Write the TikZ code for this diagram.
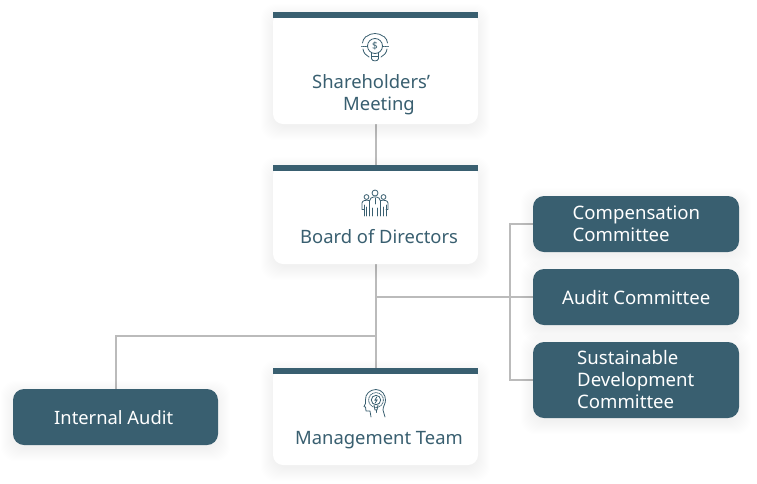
\documentclass[tikz,border=0pt]{standalone}
\usepackage{fontspec}
\setmainfont{Noto Sans}
\usetikzlibrary{backgrounds,calc}
\definecolor{teal}{HTML}{395F70}
\definecolor{wire}{HTML}{BBBBBB}
\tikzset{
  x=1pt,y=-1pt,
  boxbase/.style={rectangle,rounded corners=10pt,inner sep=0pt,outer sep=0pt,minimum width=205pt},
  card/.style={boxbase,fill=white},
  darkbox/.style={boxbase,fill=teal,rounded corners=11pt},
  bar/.style={fill=teal},
  conn/.style={draw=wire,line width=2pt},
  lightlabel/.style={text=white,font=\fontsize{18.35}{22}\selectfont,inner sep=0pt,align=left},
  committeelabel/.style={text=white,font=\fontsize{18.6}{22}\selectfont,inner sep=0pt,align=left},
  darklabel/.style={text=teal,font=\fontsize{18.4}{22}\selectfont,inner sep=0pt,align=left},
  icon/.style={draw=teal,line width=0.8pt,line cap=round,line join=round},
}
\newcommand{\softshadow}[4]{%
  \foreach \k in {1,...,14}{
    \fill[black,opacity=0.005,rounded corners=14pt]
      ({#1-13+\k},{#2-9+\k}) rectangle ({#3+13-\k},{#4+17-\k});
  }}
\begin{document}
\begin{tikzpicture}
\useasboundingbox (0,0) rectangle (757,483);

% shadows
\softshadow{273}{12}{478}{124}
\softshadow{273}{165}{478}{264}
\softshadow{273}{368}{478}{465}
\softshadow{13}{389}{218}{445}
\softshadow{533}{196}{739}{252}
\softshadow{533}{269}{739}{325}
\softshadow{533}{342}{739}{418}

% cards
\node[card,minimum height=112pt] (share) at (375.5,68) {};
\node[card,minimum height=99pt] (board) at (375.5,214.5) {};
\node[card,minimum height=97pt] (mgmt) at (375.5,416.5) {};
\fill[bar] (273,12) rectangle (478,18);
\fill[bar] (273,165) rectangle (478,171);
\fill[bar] (273,368) rectangle (478,374);

% dark boxes
\node[darkbox,minimum height=56pt] (internal) at (115.5,417) {};
\node[darkbox,minimum width=206pt,minimum height=56pt] (comp) at (636,224) {};
\node[darkbox,minimum width=206pt,minimum height=56pt] (audit) at (636,297) {};
\node[darkbox,minimum width=206pt,minimum height=76pt] (sust) at (636,380) {};

% connectors
\begin{scope}[on background layer]
\fill[white] (0,0) rectangle (757,483);
\draw[conn] (share.south) -- (board.north);
\draw[conn] (board.south) -- (mgmt.north);
\coordinate (jaudit) at (board.south |- audit.west);
\coordinate (jinternal) at (375.5,336);
\coordinate (jbus) at (510,297);
\draw[conn] (jaudit) -- (audit.west);
\draw[conn] (comp.west) -| (jbus) |- (sust.west);
\draw[conn] (internal.north) |- (jinternal);
\end{scope}

% labels
\node[darklabel,anchor=base west] (t1a) at (312,88) {Shareholders’};
\node[darklabel,anchor=base west] (t1b) at (343,110) {Meeting};
\node[darklabel,anchor=base west] (t2) at (300,243) {Board of Directors};
\node[darklabel,anchor=base west] (t3) at (295,444) {Management Team};
\node[lightlabel,anchor=base west] (t4) at (54,424) {Internal Audit};
\node[committeelabel,anchor=base west] (t5a) at (572.5,219) {Compensation};
\node[committeelabel,anchor=base west] (t5b) at (572.5,241) {Committee};
\node[committeelabel,anchor=base west] (t6) at (562,304) {Audit Committee};
\node[committeelabel,anchor=base west] (t7a) at (577,364) {Sustainable};
\node[committeelabel,anchor=base west] (t7b) at (577,386) {Development};
\node[committeelabel,anchor=base west] (t7c) at (577,408) {Committee};

% icon: bulb with dollar
\begin{scope}[shift={(375,46)}]
  \draw[icon] (0,0) circle (7.5);
  \draw[icon] (-3.2,7) -- (-3.2,13);
  \draw[icon] (3.2,7) -- (3.2,13);
  \draw[icon] (-3.2,10) -- (3.2,10);
  \draw[icon] (-3.2,13) .. controls (-3,15.5) and (3,15.5) .. (3.2,13);
  \draw[icon] (-8.5,-9.5) .. controls (-4,-13.5) and (4,-13.5) .. (8.5,-9.5);
  \draw[icon] (-12,3) .. controls (-11.5,7) and (-9,9.5) .. (-6,11);
  \draw[icon] (12,3) .. controls (11.5,7) and (9,9.5) .. (6,11);
  \draw[icon] (-12.5,-3) .. controls (-12.6,-5) and (-11,-8) .. (-9,-9.5);
  \draw[icon] (12.5,-3) .. controls (12.6,-5) and (11,-8) .. (9,-9.5);
  \draw[icon,densely dotted] (-13.5,0) -- (-8,0);
  \draw[icon,densely dotted] (8,0) -- (13.5,0);
  \node[text=teal,font=\fontsize{10}{10}\selectfont,inner sep=0pt] (dollar) at (0,0) {\$};
\end{scope}

% icon: people
\begin{scope}[shift={(375,205)}]
  \draw[icon] (0,-12) circle (3);
  \draw[icon] (-8.5,-8) circle (2.4);
  \draw[icon] (8.5,-8) circle (2.4);
  \draw[icon] (-5.5,11) -- (-5.5,-4) .. controls (-5.5,-7) and (-3,-7.5) .. (-1.5,-8) -- (1.5,-8) .. controls (3,-7.5) and (5.5,-7) .. (5.5,-4) -- (5.5,11);
  \draw[icon] (-2.5,3) -- (-2.5,11) (2.5,3) -- (2.5,11);
  \draw[icon] (0,-7) -- (0,-1);
  \draw[icon] (-5.5,-4.5) .. controls (-9,-5) and (-12.5,-5) .. (-13,-2) -- (-13,4);
  \draw[icon] (5.5,-4.5) .. controls (9,-5) and (12.5,-5) .. (13,-2) -- (13,4);
  \draw[icon] (-13,4) -- (-11,4) (11,4) -- (13,4);
  \draw[icon] (-11,0) -- (-11,11) (-8.5,2) -- (-8.5,11);
  \draw[icon] (11,0) -- (11,11) (8.5,2) -- (8.5,11);
\end{scope}

% icon: head with bulb
\begin{scope}[shift={(376,401)}]
  \draw[icon] (-5,16) -- (-6,10) -- (-10,10) -- (-10.5,6) -- (-12,5.5) -- (-10.5,2.5) -- (-10.5,-1)
     .. controls (-11,-7) and (-6,-11.5) .. (0,-11.5)
     .. controls (6,-11.5) and (9.5,-6) .. (9.5,-1)
     .. controls (9.5,3) and (7,5) .. (7,9) -- (9,16);
  \draw[icon] (0,-1) circle (4.7);
  \draw[icon,densely dotted] (0,-1) circle (7.4);
  \draw[icon] (0.8,-4) -- (-1.2,-0.7) -- (1.2,-1.2) -- (-0.8,2);
  \draw[icon] (-2,4) -- (-1,9) -- (1,9) -- (2,4);
  \draw[icon] (0,9) -- (0,11.5);
\end{scope}
\end{tikzpicture}
\end{document}
